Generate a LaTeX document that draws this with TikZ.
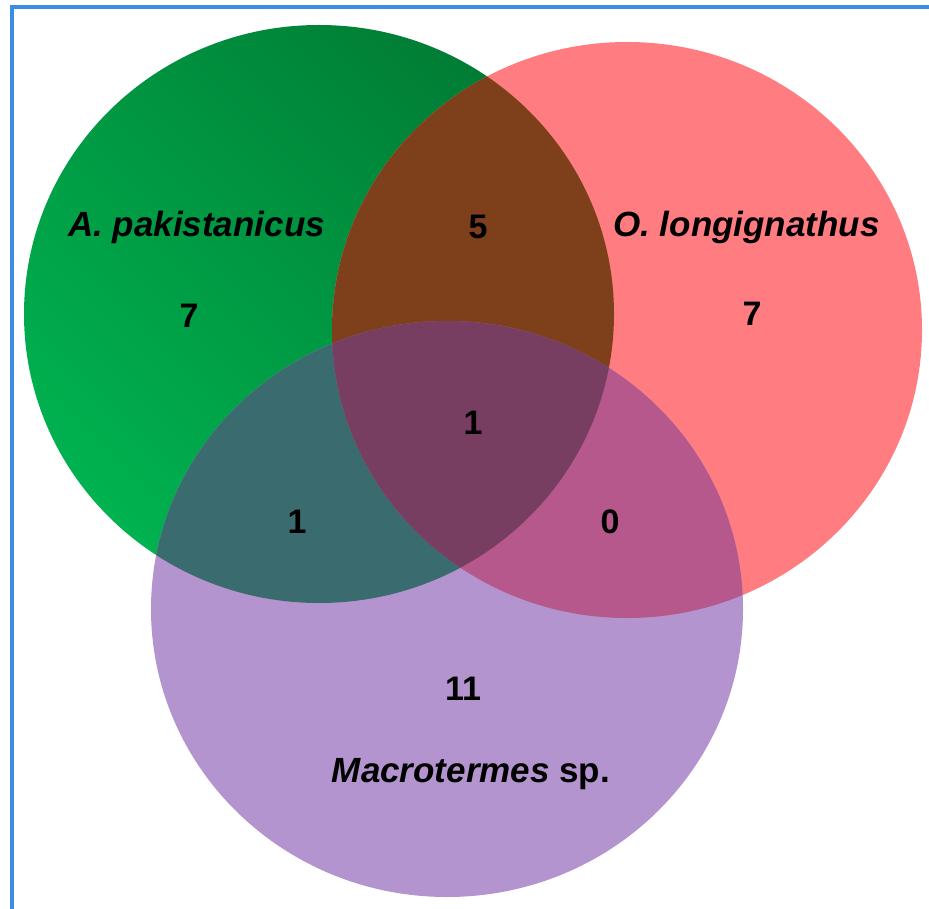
\documentclass[tikz,border=0pt]{standalone}
\usepackage{fontspec}
\setmainfont{Liberation Sans}
\definecolor{apakdark}{RGB}{0,124,52}
\definecolor{apaklight}{RGB}{0,178,80}
\definecolor{olongpink}{RGB}{255,124,128}
\definecolor{macropurple}{RGB}{179,148,206}
\definecolor{apolbrown}{RGB}{125,64,26}
\definecolor{apmateal}{RGB}{58,107,111}
\definecolor{olmamagenta}{RGB}{182,88,140}
\definecolor{allplum}{RGB}{119,62,97}
\definecolor{frameblue}{RGB}{58,140,230}
\def\apakset{(319,314) ellipse [x radius=295pt, y radius=289pt]}
\def\olongset{(627,330) ellipse [x radius=295pt, y radius=288pt]}
\def\macroset{(447,609) ellipse [x radius=296pt, y radius=288pt]}
\begin{document}
\begin{tikzpicture}[x=1pt, y=-1pt,
  lbl/.style={font=\fontsize{35}{40}\selectfont\bfseries\itshape, anchor=base},
  cnt/.style={font=\fontsize{34}{40}\selectfont\bfseries, anchor=base}]
\useasboundingbox (0,0) rectangle (929,909);
\shade[top color=apakdark, bottom color=apaklight, shading angle=-45] \apakset;
\fill[olongpink] \olongset;
\fill[macropurple] \macroset;
\begin{scope}
  \clip \apakset;
  \fill[apolbrown] \olongset;
  \fill[apmateal] \macroset;
\end{scope}
\begin{scope}
  \clip \olongset;
  \fill[olmamagenta] \macroset;
\end{scope}
\begin{scope}
  \clip \apakset;
  \clip \olongset;
  \fill[allplum] \macroset;
\end{scope}
\draw[frameblue, line width=3.5pt] (12,909) -- (12,7) -- (929,7);
\node[lbl] (apak) at (196.5,237) {A. pakistanicus};
\node[lbl] (olong) at (746.5,237) {O. longignathus};
\node[lbl] (macro) at (471,782) {Macrotermes {\upshape sp.}};
\node[cnt] (apakonly) at (189,327) {7};
\node[cnt] (apol) at (478,239) {5};
\node[cnt] (olongonly) at (752,326) {7};
\node[cnt] (all) at (473,434) {1};
\node[cnt] (apma) at (297,533) {1};
\node[cnt] (olma) at (610,533) {0};
\node[cnt] (macroonly) at (463,700) {11};
\end{tikzpicture}
\end{document}
